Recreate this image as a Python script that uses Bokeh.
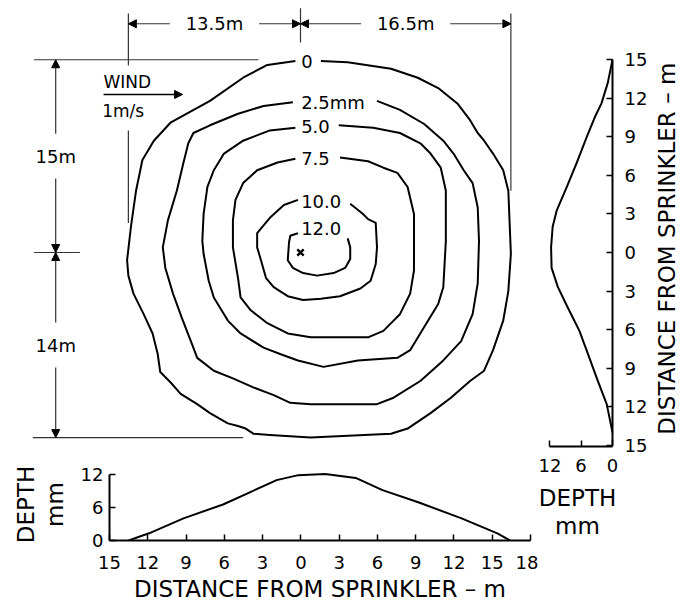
import math
from bokeh.plotting import figure
from bokeh.layouts import row, column
from bokeh.models import (Range1d, ColumnDataSource, Arrow, NormalHead,
                          FixedTicker, LinearAxis)
from bokeh.core.properties import value
from bokeh.embed import file_html
from bokeh.resources import INLINE

# ------------------------------------------------------------------ data
# Depth contours (mm) around the sprinkler, coordinates in metres from the
# sprinkler (x: downwind +, y: up +). Each line starts and ends at its label gap.
CONTOUR_LABELS = ["0", "2.5mm", "5.0", "7.5", "10.0", "12.0"]

C0_X = [-0.4, -2.6, -4.5, -7.1, -10.2, -11.5, -12.4, -12.9, -13.3, -13.6, -13.5, -13.1,
        -12.3, -11.6, -11.2, -11.0, -10.2, -9.4, -8.1, -7.1, -5.7, -4.9, -4.3, -3.7,
        -2.4, 0.8, 7.1, 8.4, 10.2, 11.8, 13.3, 14.4, 15.1, 15.9, 16.3, 16.5,
        16.3, 15.9, 15.1, 14.4, 13.9, 13.3, 12.3, 10.8, 9.2, 7.1, 3.7, 1.6]
C0_Y = [14.9, 14.6, 13.6, 11.8, 10.1, 8.7, 7.2, 4.8, 2.0, -0.6, -1.8, -3.2,
        -4.8, -6.3, -7.9, -9.3, -10.1, -11.0, -11.8, -12.5, -13.3, -13.5, -13.7, -14.1,
        -14.2, -14.4, -14.1, -13.7, -12.5, -11.3, -10.0, -9.2, -7.6, -5.3, -3.0, -0.1,
        4.8, 6.4, 7.7, 8.7, 9.3, 10.3, 11.6, 12.8, 13.6, 14.3, 14.8, 14.9]

C25_X = [-0.6, -2.9, -4.9, -7.1, -8.4, -8.8, -9.2, -9.7, -10.4, -10.8, -10.6, -10.0,
         -9.3, -8.6, -8.1, -6.8, -5.3, -3.7, -2.1, -0.8, 0.8, 6.0, 7.3, 9.4, 11.2,
         12.6, 13.5, 13.9, 14.0, 13.9, 13.5, 12.8, 12.0, 11.2, 9.7, 7.8, 6.0]
C25_Y = [11.7, 11.4, 10.8, 9.9, 9.3, 8.5, 6.9, 4.8, 2.5, 0.4, -1.2, -3.2,
         -5.1, -6.9, -8.2, -9.2, -9.8, -10.5, -11.1, -11.7, -11.8, -11.8, -11.3, -10.0, -8.4,
         -6.9, -4.8, -2.4, 0.9, 3.5, 5.4, 6.4, 7.7, 8.7, 10.0, 11.1, 11.8]

C50_X = [-0.4, -2.4, -4.5, -6.0, -6.8, -7.3, -7.6, -7.7, -7.6, -7.2, -6.8, -5.7, -4.7,
         -2.9, -1.6, -0.2, 1.8, 4.5, 7.6, 8.6, 9.7, 10.8, 11.2, 11.4, 11.4, 11.0,
         10.2, 9.4, 7.8, 5.7, 3.0]
C50_Y = [9.7, 9.5, 8.7, 7.7, 6.4, 5.1, 3.0, 0.9, -0.1, -2.2, -3.5, -5.3, -6.3,
         -7.4, -7.9, -8.4, -8.9, -8.4, -8.2, -7.6, -5.8, -4.0, -2.7, 0.9, 4.8, 6.6,
         7.7, 8.5, 9.3, 9.7, 9.9]

C75_X = [-0.4, -1.8, -3.4, -4.5, -5.1, -5.3, -5.3, -4.9, -4.7, -3.9, -2.6, -1.0, 0.8,
         5.3, 6.5, 7.8, 8.6, 8.9, 8.9, 8.9, 8.4, 7.6, 6.5, 5.3, 3.1]
C75_Y = [7.3, 7.0, 6.4, 5.4, 4.1, 2.5, 0.4, -2.0, -3.5, -4.5, -5.5, -6.3, -6.6,
         -6.6, -6.1, -4.8, -3.2, -1.4, 0.9, 3.0, 5.1, 6.2, 6.6, 7.1, 7.4]

C100_X = [-0.2, -1.3, -2.4, -3.4, -3.4, -3.1, -2.7, -2.1, -1.0, 0.2, 1.6, 3.1, 4.7,
          5.5, 5.9, 6.0, 5.9, 5.3, 4.9, 3.9]
C100_Y = [4.1, 3.7, 2.7, 1.5, 0.4, -0.6, -2.0, -2.7, -3.4, -3.7, -3.6, -3.4, -2.8,
          -2.2, -0.9, 0.4, 2.3, 2.6, 3.0, 3.8]

C120_X = [-0.2, -0.8, -0.9, -1.0, -0.6, 0.2, 1.3, 2.6, 3.5, 3.9, 3.9, 3.7]
C120_Y = [1.5, 1.3, 0.8, -0.6, -1.2, -1.6, -1.8, -1.6, -1.2, -0.5, 0.4, 1.1]

# Depth profile along the wind direction (bottom chart)
PROF_X_DIST = [-13.5, -11.9, -9.2, -6.1, -4.0, -1.9, -0.2, 1.9, 4.3, 6.4, 9.2, 12.6, 15.4, 16.4]
PROF_X_DEPTH = [0.0, 1.3, 4.0, 6.5, 8.7, 10.9, 11.8, 12.0, 11.3, 9.1, 6.9, 4.0, 1.3, 0.0]

# Depth profile across the wind (right chart)
PROF_Y_DIST = [15.0, 13.2, 11.6, 10.5, 9.0, 7.0, 5.1, 3.3, 2.0, 0.4, -1.2, -2.7, -4.3,
               -6.1, -8.2, -10.0, -11.8, -14.0]
PROF_Y_DEPTH = [0.0, 0.9, 2.1, 3.4, 4.9, 6.8, 8.7, 10.6, 11.4, 11.7, 11.6, 10.4, 8.5,
                6.3, 4.4, 2.8, 1.1, 0.0]

DIST_TICKS_X = [-15, -12, -9, -6, -3, 0, 3, 6, 9, 12, 15, 18]
DIST_TICKS_Y = [-15, -12, -9, -6, -3, 0, 3, 6, 9, 12, 15]
DEPTH_TICKS = [0, 6, 12]

# Wetted extents (m) and their dimension texts
EXT_LEFT, EXT_RIGHT, EXT_TOP, EXT_BOTTOM = -13.5, 16.5, 15.0, -14.4
DIM_LABELS = ["13.5m", "16.5m", "15m", "14m"]
WIND_TEXT = ["WIND", "1m/s"]
AXIS_TITLE = "DISTANCE FROM SPRINKLER \u2013 m"
DEPTH_TITLE = "DEPTH\nmm"

# ------------------------------------------------------------------ style / layout
FONT = "DejaVu Sans"
INK = "black"
DIM_INK = "#333333"
PX_M_X = 12.75       # px per metre, horizontal
PX_M_Y = 12.85       # px per metre, vertical
SPR_PX = (300, 252)  # sprinkler position inside the top canvas
LABEL_Y = [14.9, 11.7, 9.8, 7.3, 4.0, 1.9]


def style_axis(ax, size="18px"):
    ax.axis_line_color = INK
    ax.axis_line_width = 2
    ax.major_tick_line_color = INK
    ax.major_tick_line_width = 1.5
    ax.major_tick_in = 6
    ax.major_tick_out = 0
    ax.minor_tick_line_color = None
    ax.major_label_text_font = FONT
    ax.major_label_text_font_size = size
    ax.major_label_text_color = INK
    ax.axis_label_text_font = FONT
    ax.axis_label_text_font_size = "23px"
    ax.axis_label_text_font_style = "normal"
    ax.axis_label_text_color = INK
    ax.axis_label_text_line_height = 1.1


def bare(p):
    p.outline_line_color = None
    p.grid.visible = False
    return p


# ---------------- top: contour map with dimensions
TW, TH = 538, 460
tx0 = -SPR_PX[0] / PX_M_X
ty1 = SPR_PX[1] / PX_M_Y
top = bare(figure(width=TW, height=TH, output_backend="svg", toolbar_location=None,
                  x_axis_type=None, y_axis_type=None,
                  x_range=Range1d(tx0, tx0 + TW / PX_M_X),
                  y_range=Range1d(ty1 - TH / PX_M_Y, ty1),
                  min_border_left=0, min_border_right=0, min_border_top=0,
                  min_border_bottom=0))

cont_x = [C0_X, C25_X, C50_X, C75_X, C100_X, C120_X]
cont_y = [C0_Y, C25_Y, C50_Y, C75_Y, C100_Y, C120_Y]
top.multi_line(xs=cont_x, ys=cont_y, line_color=INK, line_width=2, line_join="round")
top.text(x=[0.05] * len(CONTOUR_LABELS), y=LABEL_Y, text=CONTOUR_LABELS,
         text_font=value(FONT), text_font_size=value("18px"), text_color=INK,
         text_align="left", text_baseline="middle")
top.scatter(x=[0], y=[0], marker="x", size=9, line_width=2.4, line_color=INK)

# dimension geometry
DIM_H_Y = 17.8
DIM_V_X = -19.2
GAP_H = 3.5
GAP_V = 1.75
cl, cr = EXT_LEFT / 2, EXT_RIGHT / 2
ct, cb = EXT_TOP / 2, EXT_BOTTOM / 2
ext_xs = [[EXT_LEFT, EXT_LEFT], [EXT_LEFT, EXT_LEFT], [EXT_RIGHT, EXT_RIGHT], [0, 0],
          [-20.9, -3.3], [-20.9, -17.3], [-21.0, -4.5]]
ext_ys = [[18.6, 14.55], [9.5, 2.3], [18.6, 4.8], [19.0, 16.35],
          [EXT_TOP, EXT_TOP], [0, 0], [EXT_BOTTOM, EXT_BOTTOM]]
top.multi_line(xs=ext_xs, ys=ext_ys, line_color=DIM_INK, line_width=1.2)

arr = ColumnDataSource(dict(
    x0=[cl - GAP_H, cl + GAP_H, cr - GAP_H, cr + GAP_H, DIM_V_X, DIM_V_X, DIM_V_X, DIM_V_X],
    y0=[DIM_H_Y] * 4 + [ct + GAP_V, ct - GAP_V, cb + GAP_V, cb - GAP_V],
    x1=[EXT_LEFT, 0, 0, EXT_RIGHT, DIM_V_X, DIM_V_X, DIM_V_X, DIM_V_X],
    y1=[DIM_H_Y] * 4 + [EXT_TOP, 0, 0, EXT_BOTTOM]))
top.add_layout(Arrow(source=arr, x_start="x0", y_start="y0", x_end="x1", y_end="y1",
                     line_color=DIM_INK, line_width=1.2,
                     end=NormalHead(size=8, fill_color=INK, line_color=INK, line_width=1)))
top.text(x=[cl, cr, DIM_V_X, DIM_V_X], y=[DIM_H_Y, DIM_H_Y, ct, cb], text=DIM_LABELS,
         text_font=value(FONT), text_font_size=value("18px"), text_color=INK,
         text_align="center", text_baseline="middle")

# wind arrow
top.add_layout(Arrow(x_start=-15.45, y_start=12.3, x_end=-9.25, y_end=12.3,
                     line_color=INK, line_width=1.5,
                     end=NormalHead(size=8, fill_color=INK, line_color=INK, line_width=1)))
top.text(x=[-15.45, -15.55], y=[13.25, 11.0], text=WIND_TEXT,
         text_font=value(FONT), text_font_size=value("17px"), text_color=INK,
         text_align="left", text_baseline="middle")

# ---------------- bottom: profile along the wind
BW, BH = 538, 144
bot = bare(figure(width=BW, height=BH, output_backend="svg", toolbar_location=None,
                  x_axis_type=None, y_axis_type=None,
                  x_range=Range1d(-15, 18), y_range=Range1d(0, 13),
                  min_border_left=109, min_border_right=8, min_border_top=8,
                  min_border_bottom=64))
bot.line(PROF_X_DIST, PROF_X_DEPTH, line_color=INK, line_width=2, line_join="round")

bx = LinearAxis(ticker=FixedTicker(ticks=DIST_TICKS_X), bounds=(-15, 18),
                major_label_overrides={t: str(abs(t)) for t in DIST_TICKS_X},
                axis_label=AXIS_TITLE)
style_axis(bx)
bx.major_label_standoff = 15
bx.axis_label_standoff = 4
bot.add_layout(bx, "below")
by = LinearAxis(ticker=FixedTicker(ticks=DEPTH_TICKS), bounds=(0, 12),
                axis_label=DEPTH_TITLE)
style_axis(by)
by.major_label_standoff = 6
by.axis_label_standoff = 10
bot.add_layout(by, "left")

# ---------------- right: profile across the wind
RY_RANGE = (-15.1, 15.25)
RW, RH = 114, 556
rgt = bare(figure(width=RW, height=RH, output_backend="svg", toolbar_location=None,
                  x_axis_type=None, y_axis_type=None,
                  x_range=Range1d(70 / 5.25, 0), y_range=Range1d(*RY_RANGE),
                  min_border_left=4, min_border_right=40, min_border_top=56,
                  min_border_bottom=110))
rgt.line(PROF_Y_DEPTH, PROF_Y_DIST, line_color=INK, line_width=2, line_join="round")

ry = LinearAxis(ticker=FixedTicker(ticks=DIST_TICKS_Y), bounds=(-15, 15),
                major_label_overrides={t: str(abs(t)) for t in DIST_TICKS_Y})
style_axis(ry)
ry.major_label_standoff = 12
rgt.add_layout(ry, "right")
rx = LinearAxis(ticker=FixedTicker(ticks=DEPTH_TICKS), bounds=(0, 12),
                axis_label=DEPTH_TITLE)
style_axis(rx)
rx.major_label_standoff = 12
rx.axis_label_standoff = 10
rgt.add_layout(rx, "below")

# ---------------- strip holding the right-hand title (reads bottom-to-top)
SW, SH = 32, 556
ttl = bare(figure(width=SW, height=SH, output_backend="svg", toolbar_location=None,
                  x_axis_type=None, y_axis_type=None,
                  x_range=Range1d(0, 1),
                  y_range=Range1d(-SH / PX_M_Y + SPR_PX[1] / PX_M_Y, SPR_PX[1] / PX_M_Y),
                  min_border_left=0, min_border_right=0, min_border_top=0,
                  min_border_bottom=0))
ttl.text(x=[0.45], y=[0.3], text=[AXIS_TITLE], angle=math.pi / 2,
         text_font=value(FONT), text_font_size=value("23px"), text_color=INK,
         text_align="center", text_baseline="middle")

# nesting keeps each frame independent of its neighbours
layout = row(column(top, row(bot)), rgt, column(ttl))
open("out.html", "w").write(file_html(layout, INLINE))
